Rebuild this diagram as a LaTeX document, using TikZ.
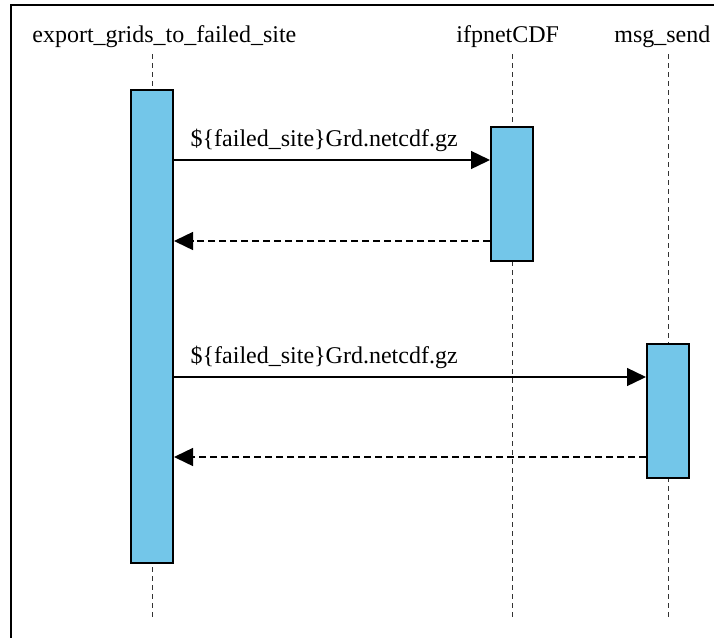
\documentclass[tikz,border=0pt]{standalone}
\usepackage{fontspec}
\setmainfont{Liberation Serif}
\usepackage{tikz}
\usetikzlibrary{arrows.meta,positioning}
\definecolor{actblue}{RGB}{115,198,233}

\begin{document}
\begin{tikzpicture}[x=0.5pt,y=-0.5pt,
  every node/.style={font=\fontsize{12}{14}\selectfont, inner sep=0pt},
  lifeline/.style={dash pattern=on 2.5pt off 2pt, line width=0.5pt, black!80},
  actbox/.style={draw, line width=1pt, fill=actblue, minimum width=21pt,
    anchor=north},
  call/.style={line width=0.7pt, -{Triangle[length=9.5pt,width=9pt]}},
  reply/.style={call, dash pattern=on 3.5pt off 2pt}]
\useasboundingbox (0,0) rectangle (714,638);
\clip (0,0) rectangle (714,638);
\draw[line width=0.9pt] (11,5) rectangle (730,660);
% participants
\node[anchor=base west] (exporttitle) at (32,42) {export\_grids\_to\_failed\_site};
\node[anchor=base west] (ifpnettitle) at (456,42) {ifpnetCDF};
\node[anchor=base west] (msgsendtitle) at (614,42) {msg\_send};
% lifelines
\coordinate (exporttop) at (152,54);  \coordinate (exportbot) at (152,620);
\coordinate (ifpnettop) at (512,54);  \coordinate (ifpnetbot) at (512,620);
\coordinate (msgsendtop) at (668,54); \coordinate (msgsendbot) at (668,620);
\draw[lifeline] (exporttop) -- (exportbot);
\draw[lifeline] (ifpnettop) -- (ifpnetbot);
\draw[lifeline] (msgsendtop) -- (msgsendbot);
% activations
\node[actbox, minimum height=236.5pt] (exportact) at (152,89) {};
\node[actbox, minimum height=67pt] (ifpnetact) at (512,126) {};
\node[actbox, minimum height=67pt] (msgsendact) at (668,343) {};
% messages
\draw[call] (exportact.east |- 0,160) -- (ifpnetact.west |- 0,160)
  node[pos=0, anchor=base west, xshift=8pt, yshift=7pt] (ifpnetmsg)
  {\$\{failed\_site\}Grd.netcdf.gz};
\draw[reply] (ifpnetact.west |- 0,241) -- (exportact.east |- 0,241);
\draw[call] (exportact.east |- 0,377) -- (msgsendact.west |- 0,377)
  node[pos=0, anchor=base west, xshift=8pt, yshift=7pt] (msgsendmsg)
  {\$\{failed\_site\}Grd.netcdf.gz};
\draw[reply] (msgsendact.west |- 0,457) -- (exportact.east |- 0,457);
\end{tikzpicture}
\end{document}
